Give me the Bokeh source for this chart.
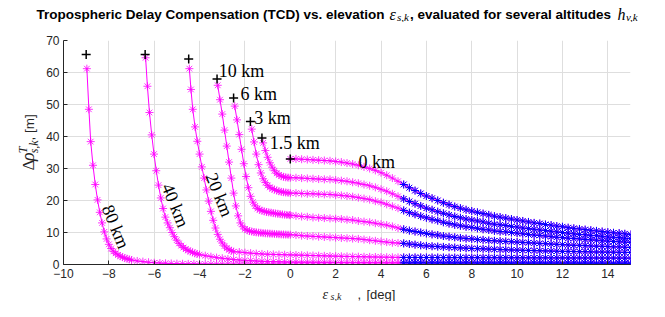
import numpy as np
from bokeh.plotting import figure
from bokeh.layouts import column, row
from bokeh.models import Range1d, FixedTicker, Label
from bokeh.embed import file_html
from bokeh.resources import INLINE

# ---------------- data ----------------
X_TICKS = [-10, -8, -6, -4, -2, 0, 2, 4, 6, 8, 10, 12, 14]
Y_TICKS = [0, 10, 20, 30, 40, 50, 60, 70]
ELEV_SPLIT_DEG = 5.0   # markers at or above this elevation are drawn blue

ALT_LABELS = ["0 km", "1.5 km", "3 km", "6 km", "10 km", "20 km", "40 km", "80 km"]
START_ELEV = [0.0, -1.25, -1.76, -2.50, -3.23, -4.48, -6.40, -9.00]
START_DELAY = [33.0, 39.5, 44.7, 52.0, 58.0, 64.2, 65.6, 65.6]

# shared elevation grid for the positive-elevation part [deg]
ELEV_POS = [0.0, 0.25, 0.5, 0.75, 1.0, 1.25, 1.5, 1.75, 2.0, 2.25,
            2.5, 2.75, 3.0, 3.25, 3.5, 3.75, 4.0, 4.25, 4.5, 4.75,
            5.0, 5.25, 5.5, 5.75, 6.0, 6.25, 6.5, 6.75, 7.0, 7.25,
            7.5, 7.75, 8.0, 8.25, 8.5, 8.75, 9.0, 9.25, 9.5, 9.75,
            10.0, 10.25, 10.5, 10.75, 11.0, 11.25, 11.5, 11.75, 12.0, 12.25,
            12.5, 12.75, 13.0, 13.25, 13.5, 13.75, 14.0, 14.25, 14.5, 14.75, 15.0]

# negative-elevation parts (elevation [deg], delay [m])
NEG_ELEV_0 = []
NEG_DELAY_0 = []
NEG_ELEV_1_5 = [-1.2, -1.1, -1.0, -0.9, -0.8, -0.7, -0.6, -0.5, -0.4, -0.3, -0.2, -0.1]
NEG_DELAY_1_5 = [38.0, 35.6, 33.5, 31.8, 30.4, 29.3, 28.5, 28.0, 27.6, 27.4, 27.25, 27.15]
NEG_ELEV_3 = [-1.7, -1.6, -1.5, -1.4, -1.3, -1.2, -1.1, -1.0, -0.9, -0.8, -0.7, -0.6,
              -0.5, -0.4, -0.3, -0.2, -0.1]
NEG_DELAY_3 = [42.3, 38.3, 34.5, 31.2, 28.6, 26.8, 25.6, 24.7, 24.1, 23.7, 23.4, 23.1,
               22.9, 22.7, 22.6, 22.5, 22.4]
NEG_ELEV_6 = [-2.45, -2.35, -2.25, -2.15, -2.05, -1.95, -1.85, -1.75, -1.65, -1.55,
              -1.45, -1.35, -1.25, -1.15, -1.05, -0.95, -0.85, -0.75, -0.65, -0.55,
              -0.45, -0.35, -0.25, -0.15, -0.05]
NEG_DELAY_6 = [49.5, 45.2, 40.6, 36.0, 31.5, 27.5, 24.0, 21.3, 19.5, 18.3,
               17.5, 17.1, 16.8, 16.6, 16.4, 16.3, 16.2, 16.05, 15.95, 15.85,
               15.75, 15.65, 15.55, 15.5, 15.45]
NEG_ELEV_10 = [-3.2, -3.1, -3.0, -2.9, -2.8, -2.7, -2.6, -2.5, -2.4, -2.3,
               -2.2, -2.1, -2.0, -1.9, -1.8, -1.7, -1.6, -1.5, -1.4, -1.3,
               -1.2, -1.1, -1.0, -0.9, -0.8, -0.7, -0.6, -0.5, -0.4, -0.3, -0.2, -0.1]
NEG_DELAY_10 = [56.0, 51.5, 47.0, 42.0, 37.0, 32.0, 27.0, 22.3, 18.3, 15.2,
                13.0, 11.8, 11.1, 10.7, 10.45, 10.3, 10.15, 10.05, 9.95, 9.9,
                9.8, 9.75, 9.7, 9.65, 9.6, 9.55, 9.5, 9.45, 9.4, 9.38, 9.35, 9.32]
NEG_ELEV_20 = [-4.45, -4.38, -4.3, -4.2, -4.1, -4.0, -3.9, -3.8, -3.7, -3.6,
               -3.5, -3.4, -3.3, -3.2, -3.1, -3.0, -2.9, -2.8, -2.7, -2.6,
               -2.5, -2.25, -2.0, -1.75, -1.5, -1.25, -1.0, -0.75, -0.5, -0.25]
NEG_DELAY_20 = [61.2, 54.7, 48.5, 43.0, 38.5, 34.5, 30.5, 27.0, 23.3, 19.8,
                16.6, 13.8, 11.4, 9.4, 7.9, 6.7, 5.8, 5.1, 4.6, 4.3,
                4.0, 3.9, 3.7, 3.55, 3.4, 3.3, 3.2, 3.15, 3.1, 3.05]
NEG_ELEV_40 = [-6.38, -6.3, -6.21, -6.11, -6.01, -5.91, -5.81, -5.71, -5.61, -5.51,
               -5.41, -5.31, -5.21, -5.11, -5.01, -4.91, -4.81, -4.71, -4.61, -4.51,
               -4.41, -4.31, -4.21, -4.11, -4.0, -3.75, -3.5, -3.25, -3.0, -2.75,
               -2.5, -2.25, -2.0, -1.75, -1.5, -1.25, -1.0, -0.75, -0.5, -0.25]
NEG_DELAY_40 = [64.6, 55.7, 47.5, 40.5, 34.5, 29.3, 24.8, 20.8, 17.5, 14.8,
                13.0, 11.5, 10.0, 8.7, 7.6, 6.6, 5.9, 5.3, 4.8, 4.4,
                4.1, 3.8, 3.5, 3.3, 3.1, 2.75, 2.45, 2.15, 1.95, 1.75,
                1.55, 1.4, 1.3, 1.2, 1.1, 1.0, 0.95, 0.9, 0.85, 0.8]
NEG_ELEV_80 = [-8.97, -8.88, -8.8, -8.7, -8.6, -8.5, -8.4, -8.3, -8.2, -8.1,
               -8.0, -7.9, -7.8, -7.7, -7.6, -7.5, -7.4, -7.3, -7.2, -7.1,
               -7.0, -6.75, -6.5, -6.25, -6.0, -5.75, -5.5, -5.25, -5.0, -4.75,
               -4.5, -4.25, -4.0, -3.75, -3.5, -3.25, -3.0, -2.75, -2.5, -2.25,
               -2.0, -1.75, -1.5, -1.25, -1.0, -0.75, -0.5, -0.25]
NEG_DELAY_80 = [61.2, 48.5, 38.4, 31.0, 25.0, 20.2, 16.3, 13.0, 10.2, 8.0,
                6.3, 5.0, 4.1, 3.5, 3.0, 2.6, 2.3, 2.0, 1.8, 1.6,
                1.4, 1.1, 0.9, 0.7, 0.55, 0.45, 0.38, 0.32, 0.27, 0.23,
                0.2, 0.18, 0.16, 0.15, 0.14, 0.13, 0.12, 0.11, 0.1, 0.1,
                0.09, 0.09, 0.08, 0.08, 0.07, 0.07, 0.07, 0.06]

# positive-elevation parts (delay [m] on ELEV_POS)
POS_DELAY_0 = [33.0, 33.0, 32.9, 32.8, 32.7, 32.6, 32.5, 32.4, 32.2, 32.0,
               31.7, 31.4, 31.0, 30.5, 30.0, 29.4, 28.7, 27.9, 27.0, 26.0,
               25.0, 24.0, 23.1, 22.2, 21.4, 20.7, 20.0, 19.3, 18.7, 18.1,
               17.6, 17.1, 16.7, 16.3, 15.9, 15.5, 15.1, 14.8, 14.5, 14.2,
               13.9, 13.6, 13.3, 13.0, 12.8, 12.5, 12.3, 12.0, 11.8, 11.5,
               11.3, 11.1, 10.9, 10.7, 10.5, 10.3, 10.1, 9.9, 9.8, 9.6, 9.4]
POS_DELAY_1_5 = [27.1, 27.1, 27.0, 26.9, 26.8, 26.7, 26.6, 26.6, 26.4, 26.2,
                 26.0, 25.7, 25.4, 25.0, 24.6, 24.1, 23.5, 22.9, 22.1, 21.3,
                 20.5, 19.7, 19.0, 18.3, 17.6, 17.1, 16.5, 16.0, 15.5, 15.0,
                 14.6, 14.2, 13.9, 13.6, 13.3, 12.9, 12.6, 12.4, 12.2, 11.9,
                 11.7, 11.4, 11.2, 11.0, 10.8, 10.6, 10.4, 10.2, 10.0, 9.8,
                 9.6, 9.4, 9.3, 9.1, 9.0, 8.8, 8.6, 8.5, 8.4, 8.2, 8.1]
POS_DELAY_3 = [22.3, 22.3, 22.2, 22.1, 22.1, 22.0, 21.9, 21.9, 21.7, 21.6,
               21.4, 21.2, 20.9, 20.6, 20.3, 19.8, 19.4, 18.8, 18.2, 17.6,
               16.9, 16.2, 15.7, 15.1, 14.6, 14.1, 13.7, 13.2, 12.8, 12.4,
               12.1, 11.8, 11.6, 11.3, 11.0, 10.8, 10.5, 10.3, 10.2, 10.0,
               9.8, 9.6, 9.4, 9.2, 9.1, 8.9, 8.7, 8.5, 8.4, 8.2,
               8.1, 8.0, 7.8, 7.7, 7.6, 7.4, 7.3, 7.2, 7.1, 7.0, 6.9]
POS_DELAY_6 = [15.4, 15.2, 15.0, 14.9, 14.7, 14.6, 14.5, 14.4, 14.3, 14.2,
               14.0, 13.9, 13.6, 13.4, 13.2, 12.9, 12.6, 12.3, 11.9, 11.4,
               11.0, 10.6, 10.3, 10.0, 9.7, 9.4, 9.2, 8.9, 8.7, 8.5,
               8.3, 8.1, 8.0, 7.8, 7.7, 7.5, 7.4, 7.3, 7.2, 7.1,
               7.0, 6.9, 6.8, 6.7, 6.6, 6.5, 6.4, 6.3, 6.2, 6.1,
               6.0, 6.0, 5.9, 5.8, 5.7, 5.7, 5.6, 5.5, 5.5, 5.4, 5.3]
POS_DELAY_10 = [9.3, 9.2, 9.0, 8.9, 8.8, 8.7, 8.6, 8.5, 8.4, 8.3,
                8.2, 8.1, 8.0, 7.8, 7.6, 7.4, 7.2, 7.0, 6.8, 6.7,
                6.6, 6.4, 6.2, 6.0, 5.8, 5.7, 5.6, 5.5, 5.4, 5.3,
                5.2, 5.1, 5.0, 4.95, 4.9, 4.8, 4.75, 4.7, 4.6, 4.55,
                4.5, 4.45, 4.4, 4.35, 4.3, 4.25, 4.2, 4.15, 4.1, 4.1,
                4.05, 4.0, 4.0, 3.95, 3.9, 3.9, 3.85, 3.85, 3.8, 3.8, 3.75]
POS_DELAY_20 = [3.0, 2.95, 2.9, 2.85, 2.8, 2.75, 2.7, 2.65, 2.6, 2.56,
                2.52, 2.48, 2.44, 2.4, 2.37, 2.34, 2.31, 2.28, 2.25, 2.22,
                2.2, 2.2, 2.19, 2.19, 2.18, 2.18, 2.17, 2.17, 2.16, 2.16,
                2.15, 2.15, 2.14, 2.14, 2.13, 2.13, 2.12, 2.12, 2.11, 2.11,
                2.1, 2.1, 2.09, 2.09, 2.08, 2.08, 2.07, 2.07, 2.06, 2.06,
                2.05, 2.05, 2.04, 2.04, 2.03, 2.03, 2.02, 2.02, 2.01, 2.01, 2.0]
POS_DELAY_40 = [0.75, 0.74, 0.72, 0.71, 0.7, 0.68, 0.67, 0.66, 0.64, 0.63,
                0.62, 0.61, 0.6, 0.59, 0.58, 0.57, 0.56, 0.55, 0.54, 0.53,
                0.52, 0.52, 0.51, 0.51, 0.5, 0.5, 0.5, 0.49, 0.49, 0.49,
                0.48, 0.48, 0.48, 0.47, 0.47, 0.47, 0.46, 0.46, 0.46, 0.45,
                0.45, 0.45, 0.45, 0.44, 0.44, 0.44, 0.44, 0.43, 0.43, 0.43,
                0.43, 0.42, 0.42, 0.42, 0.42, 0.41, 0.41, 0.41, 0.41, 0.4, 0.4]
POS_DELAY_80 = [0.06, 0.06, 0.06, 0.06, 0.06, 0.06, 0.06, 0.06, 0.06, 0.06,
                0.05, 0.05, 0.05, 0.05, 0.05, 0.05, 0.05, 0.05, 0.05, 0.05,
                0.05, 0.05, 0.05, 0.05, 0.05, 0.05, 0.05, 0.05, 0.05, 0.05,
                0.05, 0.05, 0.05, 0.05, 0.05, 0.05, 0.05, 0.05, 0.05, 0.05,
                0.04, 0.04, 0.04, 0.04, 0.04, 0.04, 0.04, 0.04, 0.04, 0.04,
                0.04, 0.04, 0.04, 0.04, 0.04, 0.04, 0.04, 0.04, 0.04, 0.04, 0.04]

NEG_ELEV = [NEG_ELEV_0, NEG_ELEV_1_5, NEG_ELEV_3, NEG_ELEV_6, NEG_ELEV_10,
            NEG_ELEV_20, NEG_ELEV_40, NEG_ELEV_80]
NEG_DELAY = [NEG_DELAY_0, NEG_DELAY_1_5, NEG_DELAY_3, NEG_DELAY_6, NEG_DELAY_10,
             NEG_DELAY_20, NEG_DELAY_40, NEG_DELAY_80]
POS_DELAY = [POS_DELAY_0, POS_DELAY_1_5, POS_DELAY_3, POS_DELAY_6, POS_DELAY_10,
             POS_DELAY_20, POS_DELAY_40, POS_DELAY_80]

# ---------------- styling / layout ----------------
MAGENTA = "#ff00ff"
BLUE = "#0000ff"
AX = "#262626"
W, H = 649, 301
TITLE_H = 22          # title strip: picture rows 0..22
MID_H = 262           # main plot strip: rows 22..284 (frame rows 40..266)
XL_H = H - TITLE_H - MID_H   # x-label strip: rows 284..301
YL_W = 40             # y-label strip: columns 0..40
BASE_SHIFT = 0.25     # Label 'alphabetic' baseline lands ~0.25 em low; compensate


def text_fig(w, h):
    f = figure(width=w, height=h, x_range=Range1d(0, w), y_range=Range1d(0, h),
               output_backend="svg", toolbar_location=None, title=None,
               x_axis_type=None, y_axis_type=None,
               min_border=0, min_border_left=0, min_border_right=0,
               min_border_top=0, min_border_bottom=0)
    f.outline_line_color = None
    f.xgrid.visible = False
    f.ygrid.visible = False
    return f


def put(f, x, y, text, font, size, style="normal", angle=0.0, color="black"):
    f.add_layout(Label(x=x, y=y, text=text, text_font=font, text_font_size=f"{size}px",
                       text_font_style=style, text_color=color, angle=angle,
                       text_align="left", text_baseline="alphabetic"))


# ---- main plot ----
p = figure(width=W - YL_W, height=MID_H, x_range=Range1d(-10, 15), y_range=Range1d(0, 70),
           output_backend="svg", toolbar_location=None, title=None,
           min_border_left=23, min_border_right=19, min_border_top=18, min_border_bottom=20)
p.outline_line_color = None

for ax in (p.xaxis[0], p.yaxis[0]):
    ax.axis_line_color = AX
    ax.axis_line_width = 1
    ax.major_tick_line_color = AX
    ax.major_tick_in = 4
    ax.major_tick_out = 0
    ax.minor_tick_line_color = None
    ax.major_label_text_font = "Liberation Sans"
    ax.major_label_text_font_size = "12px"
    ax.major_label_text_color = AX
p.xaxis[0].ticker = FixedTicker(ticks=X_TICKS)
p.yaxis[0].ticker = FixedTicker(ticks=Y_TICKS)
p.xaxis[0].major_label_standoff = 4
p.yaxis[0].major_label_standoff = 4
p.xgrid.grid_line_color = "#dedede"
p.ygrid.grid_line_color = "#dedede"
p.xgrid.ticker = FixedTicker(ticks=X_TICKS)
p.ygrid.ticker = FixedTicker(ticks=Y_TICKS)

curves = []
for ne, nd, pd in zip(NEG_ELEV, NEG_DELAY, POS_DELAY):
    curves.append((list(ne) + list(ELEV_POS), list(nd) + list(pd)))

for e, d in curves:
    p.line(e, d, line_color=MAGENTA, line_width=1)
for e, d in curves:
    p.scatter(e, d, marker="asterisk", size=8, line_color=MAGENTA, line_width=1, line_alpha=0.8)
for e, d in curves:
    eb = [a for a in e if a >= ELEV_SPLIT_DEG]
    db = [b for a, b in zip(e, d) if a >= ELEV_SPLIT_DEG]
    p.scatter(eb, db, marker="asterisk", size=8, line_color=BLUE, line_width=1)

p.scatter(START_ELEV, START_DELAY, marker="cross", size=9, line_color="black", line_width=1.5)


def dlabel(x, y, text, angle=0.0, align="left", baseline="alphabetic"):
    p.add_layout(Label(x=x, y=y, text=text, angle=angle, text_align=align,
                       text_baseline=baseline, text_font="Liberation Serif",
                       text_font_size="18px", text_color="black"))


# altitude labels (anchor heights already compensated for the baseline shift)
dlabel(3.01, 32.0, ALT_LABELS[0])
dlabel(-0.91, 38.1, ALT_LABELS[1])
dlabel(-1.59, 45.8, ALT_LABELS[2])
dlabel(-2.20, 53.3, ALT_LABELS[3])
dlabel(-3.16, 60.5, ALT_LABELS[4])
ang = np.deg2rad(-68)
dlabel(-3.13, 21.8, ALT_LABELS[5], ang, "center", "middle")
dlabel(-5.07, 18.5, ALT_LABELS[6], ang, "center", "middle")
dlabel(-7.70, 11.8, ALT_LABELS[7], ang, "center", "middle")

# ---- title strip: picture row r -> local y = TITLE_H - r (+ baseline shift) ----
t = text_fig(W, TITLE_H)


def tput(x, r, text, font, size, style):
    put(t, x, TITLE_H - r + BASE_SHIFT * size, text, font, size, style)


tput(36, 17.5, "Tropospheric Delay Compensation (TCD) vs. elevation", "Liberation Sans", 13.5, "bold")
tput(389, 17.5, "\u03b5", "Liberation Serif", 16, "italic")
tput(396.5, 19.5, "s,k", "Liberation Serif", 11, "italic")
tput(409.5, 17.5, ", evaluated for several altitudes", "Liberation Sans", 13.5, "bold")
tput(617, 17.5, "h", "Liberation Serif", 16, "italic")
tput(625.5, 19.5, "v,k", "Liberation Serif", 11, "italic")

# ---- y-label strip: picture (X, Y) -> local (X - shift, TITLE_H + MID_H - Y) ----
yl = text_fig(YL_W, MID_H)
base = TITLE_H + MID_H
rot = np.pi / 2


def yput(X, Y, text, font, size, style="normal"):
    put(yl, X - BASE_SHIFT * size, base - Y, text, font, size, style, angle=rot, color=AX)


yput(32, 174, "\u0394", "Liberation Serif", 17)
yput(32, 163, "\u03c1", "Liberation Serif", 18, "italic")
yput(25, 154, "T", "Liberation Serif", 12, "italic")
yput(36, 154, "s,k", "Liberation Serif", 12, "italic")
yput(32, 139, ", [m]", "Liberation Sans", 13.5)

# ---- x-label strip: picture row r -> local y = H - r (+ baseline shift) ----
xl = text_fig(W, XL_H)


def xput(x, r, text, font, size, style="normal"):
    put(xl, x, H - r + BASE_SHIFT * size, text, font, size, style, color=AX)


xput(322, 297, "\u03b5", "Liberation Serif", 14, "italic")
xput(330, 298.5, "s,k", "Liberation Serif", 10, "italic")
xput(357, 297, ",", "Liberation Sans", 13)
xput(366, 297, "[deg]", "Liberation Sans", 13)

layout = column(t, row(yl, p), xl)
open("out.html", "w").write(file_html(layout, INLINE))
